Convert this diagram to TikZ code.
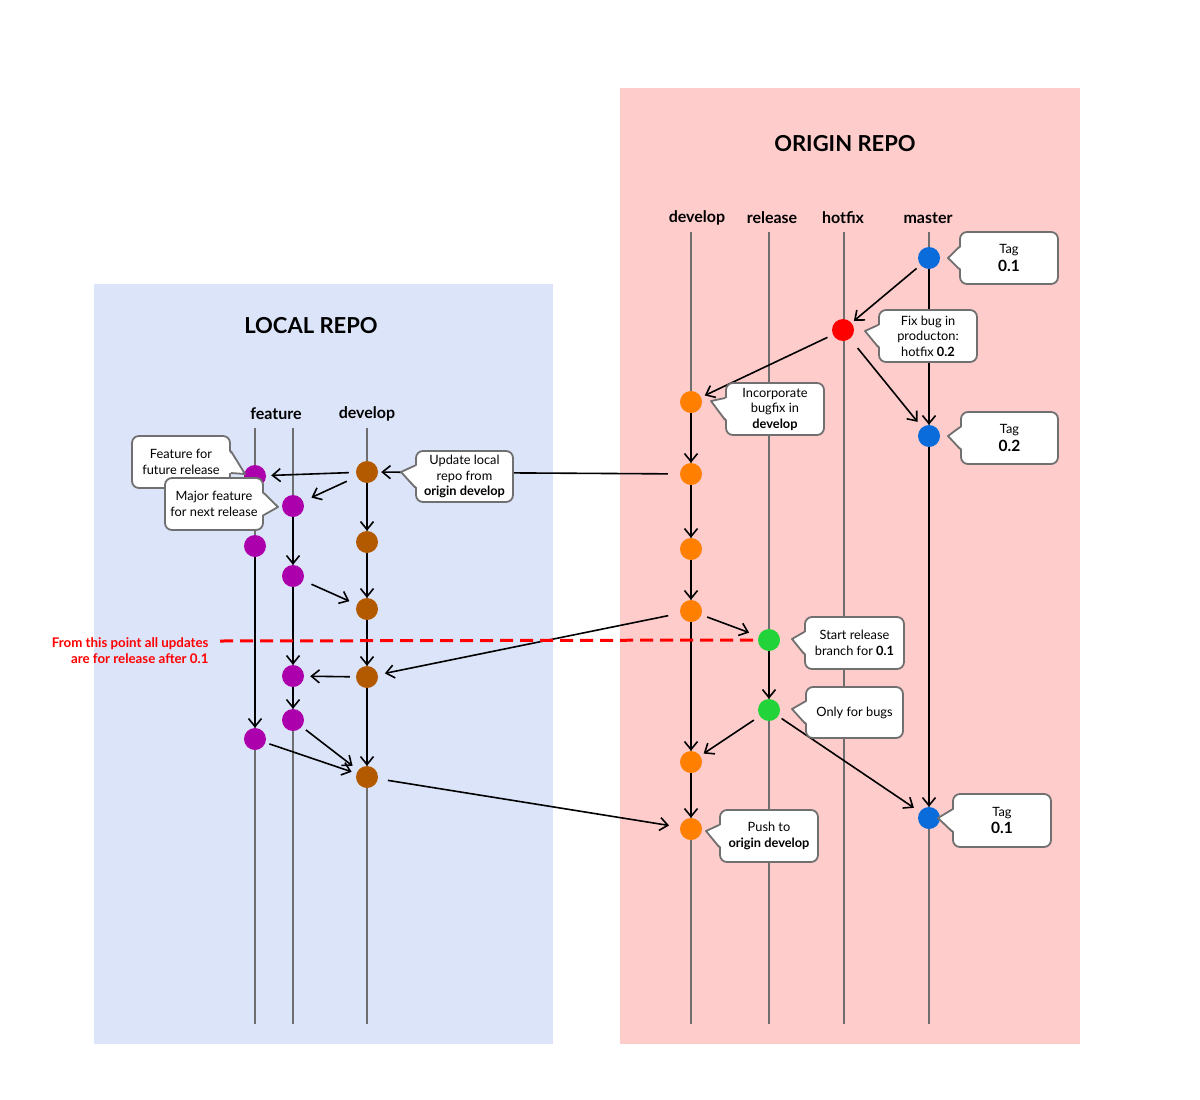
\documentclass[tikz,border=0pt]{standalone}
\usepackage{fontspec}
\setmainfont{Lato}
\usetikzlibrary{arrows.meta,calc,backgrounds}
\definecolor{bgblue}{HTML}{DCE4FA}
\definecolor{bgpink}{HTML}{FFCCCC}
\definecolor{lanegray}{HTML}{6E6E6E}
\definecolor{boxgray}{HTML}{707070}
\definecolor{cpurple}{HTML}{AD00AD}
\definecolor{cbrown}{HTML}{B35900}
\definecolor{corange}{HTML}{FF8000}
\definecolor{cgreen}{HTML}{22D43A}
\definecolor{cred}{HTML}{FF0000}
\definecolor{cblue}{HTML}{0A6BDB}
\tikzset{
  commit/.style={circle,minimum size=22pt,inner sep=0pt},
  lane/.style={draw=lanegray,line width=2pt},
  flow/.style={draw=black,line width=1.6pt,-{Straight Barb[length=8pt,width=13pt]}},
  cbox/.style={draw=boxgray,line width=1.8pt,fill=white,rounded corners=7pt,align=center,inner sep=0pt,font=\fontsize{12.8}{15.5}\selectfont},
  lbl/.style={font=\bfseries\fontsize{16}{19}\selectfont},
  ttl/.style={font=\bfseries\fontsize{22}{26}\selectfont},
}
\newcommand\gitcallout[7]{%
  \node[cbox,minimum width=#3pt,minimum height=#4pt] (#1) at (#2) {#7};
  \coordinate (#1-in) at ($(#1.#5)!2pt!(#1.center)$);
  \fill[white] ($(#1-in)+(0,-11)$) -- (#6) -- ($(#1-in)+(0,11)$) -- cycle;
  \draw[boxgray,line width=1.8pt,line join=round] ($(#1.#5)+(0,-11)$) -- (#6) -- ($(#1.#5)+(0,11)$);
}
\newcommand\tagtxt[1]{Tag\\[2pt]{\bfseries\fontsize{15.5}{18}\selectfont #1}}
\begin{document}
\begin{tikzpicture}[x=1pt,y=-1pt]
\useasboundingbox (0,0) rectangle (1200,1100);

% origin commits
\node[commit,fill=cblue] (m1) at (929,258) {};
\node[commit,fill=cred] (h1) at (843,330) {};
\node[commit,fill=cblue] (m2) at (929,436) {};
\node[commit,fill=corange] (d1) at (691,402) {};
\node[commit,fill=corange] (d2) at (691,474) {};
\node[commit,fill=corange] (d3) at (691,549) {};
\node[commit,fill=corange] (d4) at (691,611) {};
\node[commit,fill=cgreen] (r1) at (769,640) {};
\node[commit,fill=cgreen] (r2) at (769,710) {};
\node[commit,fill=corange] (d5) at (691,762) {};
\node[commit,fill=corange] (d6) at (691,829) {};
\node[commit,fill=cblue] (m3) at (929,818) {};
% local commits
\node[commit,fill=cpurple] (fa1) at (255,476) {};
\node[commit,fill=cpurple] (fa2) at (255,546) {};
\node[commit,fill=cpurple] (fa3) at (255,739) {};
\node[commit,fill=cpurple] (fb1) at (293,506) {};
\node[commit,fill=cpurple] (fb2) at (293,576) {};
\node[commit,fill=cpurple] (fb3) at (293,676) {};
\node[commit,fill=cpurple] (fb4) at (293,720) {};
\node[commit,fill=cbrown] (l1) at (367,472) {};
\node[commit,fill=cbrown] (l2) at (367,542) {};
\node[commit,fill=cbrown] (l3) at (367,609) {};
\node[commit,fill=cbrown] (l4) at (367,677) {};
\node[commit,fill=cbrown] (l5) at (367,777) {};

\begin{scope}[on background layer]
  \fill[white] (0,0) rectangle (1200,1100);
  \fill[bgblue] (94,284) rectangle (553,1044);
  \fill[bgpink] (620,88) rectangle (1080,1044);
  \coordinate (oDt) at (691,232); \coordinate (oDb) at (691,1024);
  \coordinate (oRt) at (769,232); \coordinate (oRb) at (769,1024);
  \coordinate (oHt) at (844,232); \coordinate (oHb) at (844,1024);
  \coordinate (oMt) at (929,232); \coordinate (oMb) at (929,1024);
  \coordinate (lAt) at (255,428); \coordinate (lAb) at (255,1024);
  \coordinate (lBt) at (293,428); \coordinate (lBb) at (293,1024);
  \coordinate (lDt) at (367,428); \coordinate (lDb) at (367,1024);
  \draw[lane] (oDt) -- (oDb);
  \draw[lane] (oRt) -- (oRb);
  \draw[lane] (oHt) -- (oHb);
  \draw[lane] (oMt) -- (oMb);
  \draw[lane] (lAt) -- (lAb);
  \draw[lane] (lBt) -- (lBb);
  \draw[lane] (lDt) -- (lDb);
\end{scope}

% titles and lane labels
\node[ttl] (tlocal) at (311,326) {LOCAL REPO};
\node[ttl] (torigin) at (845,144) {ORIGIN REPO};
\node[lbl] (lbfeat) at (276,414) {feature};
\node[lbl] (lbldev) at (367,414) {develop};
\node[lbl] (lbodev) at (697,218) {develop};
\node[lbl] (lbrel) at (772,218) {release};
\node[lbl] (lbhot) at (843,218) {hotfix};
\node[lbl] (lbmas) at (928,218) {master};

% vertical flows
\draw[flow] (m1) -- (m2);
\draw[flow] (m2) -- (m3);
\draw[flow] (d1) -- (d2);
\draw[flow] (d2) -- (d3);
\draw[flow] (d3) -- (d4);
\draw[flow] (d4) -- (d5);
\draw[flow] (d5) -- (d6);
\draw[flow] (r1) -- (r2);
\draw[flow] (l1) -- (l2);
\draw[flow] (l2) -- (l3);
\draw[flow] (l3) -- (l4);
\draw[flow] (l4) -- (l5);
\draw[flow] (fb1) -- (fb2);
\draw[flow] (fb2) -- (fb3);
\draw[flow] (fb3) -- (fb4);
\draw[flow] (fa2) -- (fa3);
% diagonal flows
\draw[flow,shorten <=5pt,shorten >=3pt] (m1) -- (h1);
\draw[flow,shorten <=6pt,shorten >=4pt] (h1) -- (d1);
\draw[flow,shorten <=12pt,shorten >=7pt] (h1) -- (m2);
\draw[flow,shorten <=12pt,shorten >=3pt] (d2) -- (l1);
\draw[flow,shorten <=6pt,shorten >=10pt] (d4) -- (r1);
\draw[flow,shorten <=12pt,shorten >=7pt] (d4) -- (l4);
\draw[flow,shorten <=7pt,shorten >=4pt] (r2) -- (d5);
\draw[flow,shorten <=4pt,shorten >=7pt] (r2) -- (m3);
\draw[flow,shorten <=10pt,shorten >=11pt] (l5) -- (d6);
\draw[flow,shorten <=7pt,shorten >=5pt] (l1) -- (fa1);
\draw[flow,shorten <=11pt,shorten >=9pt] (l1) -- (fb1);
\draw[flow,shorten <=9pt,shorten >=8pt] (fb2) -- (l3);
\draw[flow,shorten <=6pt,shorten >=6pt] (l4) -- (fb3);
\draw[flow,shorten <=5pt,shorten >=7pt] (fb4) -- (l5);
\draw[flow,shorten <=4pt,shorten >=5pt] (fa3) -- (l5);

% red divider
\coordinate (redstart) at (220,641);
\draw[cred,line width=3pt,dash pattern=on 13pt off 7pt] (redstart) -- (r1.west);
\node[anchor=east,align=right,text=cred,font=\bfseries\fontsize{13.3}{16}\selectfont] (rednote) at (212,651) {From this point all updates\\are for release after 0.1};

% callouts
\gitcallout{cT1}{1009,258}{98}{52}{west}{948,258}{\tagtxt{0.1}}
\gitcallout{cFix}{928,336}{98}{52}{west}{865,331}{Fix bug in\\producton:\\hotfix \textbf{0.2}}
\gitcallout{cT2}{1009.5,438}{97}{52}{west}{948,436}{\tagtxt{0.2}}
\gitcallout{cInc}{775,409}{98}{52}{west}{711,401}{Incorporate\\bugfix in\\\textbf{develop}}
\gitcallout{cUpd}{464.5,476.5}{97}{51}{west}{401,472}{Update local\\repo from\\\textbf{origin develop}}
\gitcallout{cFut}{181,462}{98}{52}{east}{245,474}{Feature for\\future release}
\gitcallout{cMaj}{214,504}{98}{52}{east}{278,507}{Major feature\\for next release}
\gitcallout{cRel}{854.5,643}{99}{52}{west}{792,639}{Start release\\branch for \textbf{0.1}}
\gitcallout{cBug}{854.5,712.5}{97}{51}{west}{792,709}{Only for bugs}
\gitcallout{cPush}{769,836}{98}{52}{west}{706,831}{Push to\\\textbf{origin develop}}
\gitcallout{cT3}{1002,820.5}{98}{53}{west}{938,818}{\tagtxt{0.1}}
\end{tikzpicture}
\end{document}
